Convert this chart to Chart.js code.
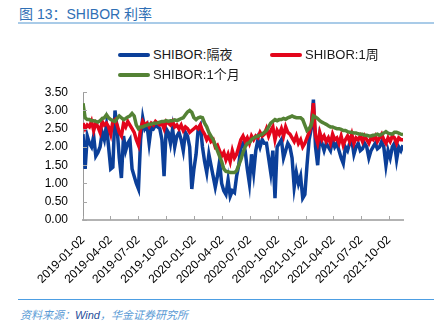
<!DOCTYPE html>
<html>
<head>
<meta charset="utf-8">
<script src="https://cdn.jsdelivr.net/npm/chart.js@4"></script>
<style>
  body { margin: 0; width: 448px; height: 332px; background: #fff; position: relative; overflow: hidden;
         font-family: "Liberation Sans", "Noto Sans CJK SC", sans-serif; }
  #title { position: absolute; left: 19px; top: 3px; font-size: 14px; color: #2f6fb5; }
  #rule1 { position: absolute; left: 18px; top: 22px; width: 416px; height: 2px; background: #a9cbe8; }
  #rule2 { position: absolute; left: 18px; top: 299px; width: 416px; height: 1px; background: #4d9ee3; }
  #source { position: absolute; left: 20px; top: 306px; font-size: 11px; font-style: italic; color: #5b9bd5; }
  #source b { font-weight: normal; color: #1f4e9a; }
  .lg { position: absolute; font-size: 13px; color: #1a1a1a; white-space: nowrap; }
  .lg i { display: inline-block; width: 32px; height: 4px; border-radius: 2px; vertical-align: middle; margin-right: 3px; position: relative; top: -1px; }
  #wrap { position: absolute; left: 0; top: 78px; width: 448px; height: 220px; }
</style>
</head>
<body>
<div id="title">图 13：SHIBOR 利率</div>
<div id="rule1"></div>
<div id="wrap"><canvas id="chart" width="448" height="220"></canvas></div>
<div id="legend"></div>
<div id="rule2"></div>
<div id="source">资料来源：<b>Wind</b>，华金证券研究所</div>
<script>
// weekly samples starting 2019-01-02
const startDate = "2019-01-02";
const stepDays = 7;
const endDay = 1050;

const tickDates = ["2019-01-02", "2019-04-02", "2019-07-02", "2019-10-02", "2020-01-02", "2020-04-02",
  "2020-07-02", "2020-10-02", "2021-01-02", "2021-04-02", "2021-07-02", "2021-10-02"];

const seriesNames = ["SHIBOR:隔夜", "SHIBOR:1周", "SHIBOR:1个月"];
const seriesColors = ["#0b3f99", "#e3051b", "#548235"];

const overnight = [2.35, 1.40, 2.30, 2.10, 2.00, 2.30, 1.75, 1.85, 2.00, 2.40,
  2.20, 2.60, 2.00, 1.40, 1.45, 3.00, 2.50, 1.70, 1.15, 2.30,
  1.90, 2.10, 2.20, 1.40, 1.20, 1.00, 0.85, 2.20, 2.80, 2.50,
  2.60, 2.10, 2.55, 2.50, 2.60, 2.55, 2.50, 2.20, 1.20, 2.50,
  2.40, 2.10, 2.50, 2.00, 2.30, 2.40, 2.20, 1.90, 2.40, 2.30,
  2.00, 0.85, 1.40, 1.80, 2.50, 2.60, 2.00, 1.60, 1.30, 1.80,
  1.50, 1.20, 0.90, 1.20, 1.60, 1.00, 0.80, 0.70, 1.10, 0.65,
  0.80, 0.75, 1.20, 1.50, 2.00, 2.10, 1.90, 1.40, 1.00, 1.80,
  1.30, 1.90, 2.20, 2.00, 2.20, 2.10, 2.10, 1.70, 1.30, 1.90,
  0.60, 2.00, 2.10, 2.20, 1.70, 1.90, 2.10, 2.00, 1.70, 0.90,
  1.30, 1.00, 1.20, 0.60, 0.70, 1.50, 2.20, 2.50, 3.30, 2.00,
  1.50, 2.30, 2.10, 1.90, 2.10, 2.00, 1.90, 2.20, 2.00, 2.10,
  1.90, 1.70, 1.55, 2.00, 1.90, 2.10, 2.20, 1.80, 2.00, 2.10,
  1.90, 1.95, 2.10, 2.00, 1.70, 1.90, 2.00, 2.10, 1.95, 2.00,
  2.15, 2.00, 1.50, 1.90, 1.70, 2.00, 2.10, 1.65, 2.00, 1.90, 2.05];

const oneWeek = [2.65, 2.50, 2.60, 2.55, 2.70, 2.45, 2.65, 2.55, 2.40, 2.70,
  2.60, 2.65, 2.55, 2.35, 2.70, 2.75, 2.60, 2.40, 2.30, 2.65,
  2.55, 2.70, 2.60, 2.50, 2.40, 2.20, 2.05, 2.50, 2.70, 2.60,
  2.65, 2.55, 2.65, 2.60, 2.70, 2.65, 2.60, 2.65, 2.50, 2.70,
  2.65, 2.60, 2.70, 2.55, 2.60, 2.50, 2.60, 2.45, 2.55, 2.50,
  2.40, 2.45, 2.50, 2.55, 2.50, 2.60, 2.45, 2.35, 2.20, 2.30,
  2.15, 2.20, 2.00, 2.05, 1.90, 1.75, 1.85, 1.65, 1.80, 1.60,
  1.90, 1.70, 1.80, 2.00, 2.20, 2.30, 2.15, 2.25, 2.10, 2.30,
  2.20, 2.30, 2.25, 2.40, 2.30, 2.35, 2.50, 2.30, 2.45, 2.55,
  2.20, 2.45, 2.35, 2.50, 2.30, 2.55, 2.40, 2.35, 2.25, 2.15,
  2.30, 2.10, 2.20, 2.00, 2.10, 2.25, 2.40, 2.60, 3.20, 2.30,
  2.10, 2.40, 2.20, 2.30, 2.15, 2.25, 2.10, 2.35, 2.20, 2.25,
  2.10, 2.30, 2.05, 2.20, 2.30, 2.15, 2.35, 2.10, 2.25, 2.20,
  2.30, 2.15, 2.30, 2.20, 2.10, 2.25, 2.20, 2.30, 2.15, 2.25,
  2.35, 2.20, 2.10, 2.25, 2.15, 2.30, 2.25, 2.10, 2.25, 2.20, 2.20];

const oneMonth = [3.20, 2.80, 2.75, 2.75, 2.72, 2.72, 2.70, 2.68, 2.72, 2.78,
  2.80, 2.88, 2.80, 2.75, 2.72, 2.70, 2.78, 2.85, 2.80, 2.75,
  2.78, 2.82, 2.85, 2.92, 2.85, 2.60, 2.50, 2.55, 2.55, 2.58,
  2.60, 2.62, 2.62, 2.65, 2.65, 2.66, 2.68, 2.70, 2.70, 2.72,
  2.70, 2.72, 2.72, 2.74, 2.72, 2.75, 2.78, 2.80, 2.88, 2.96,
  3.00, 2.95, 2.80, 2.75, 2.80, 2.82, 2.80, 2.65, 2.55, 2.40,
  2.30, 2.20, 2.05, 1.90, 1.75, 1.60, 1.40, 1.33, 1.32, 1.30,
  1.30, 1.30, 1.35, 1.50, 1.65, 1.85, 2.00, 2.10, 2.12, 2.20,
  2.25, 2.28, 2.30, 2.32, 2.35, 2.40, 2.45, 2.55, 2.65, 2.70,
  2.75, 2.72, 2.75, 2.75, 2.78, 2.76, 2.80, 2.82, 2.85, 2.82,
  2.80, 2.80, 2.80, 2.75, 2.60, 2.45, 2.50, 2.60, 2.85, 2.82,
  2.78, 2.72, 2.68, 2.65, 2.62, 2.58, 2.55, 2.55, 2.52, 2.50,
  2.50, 2.48, 2.45, 2.45, 2.42, 2.40, 2.40, 2.38, 2.38, 2.36,
  2.35, 2.35, 2.32, 2.32, 2.30, 2.30, 2.32, 2.33, 2.35, 2.32,
  2.35, 2.38, 2.42, 2.38, 2.36, 2.35, 2.40, 2.40, 2.38, 2.35, 2.34];

const dayOf = (s) => (Date.parse(s) - Date.parse(startDate)) / 86400000;
const toPoints = (arr) => arr.map((v, i) => ({ x: i * stepDays, y: v }));

// legend (two columns like the original)
const legendPos = [[118, 44], [270, 44], [118, 64]];
const legendBox = document.getElementById("legend");
seriesNames.forEach((name, i) => {
  const d = document.createElement("div");
  d.className = "lg";
  d.style.left = legendPos[i][0] + "px";
  d.style.top = legendPos[i][1] + "px";
  d.innerHTML = `<i style="background:${seriesColors[i]}"></i>${name}`;
  legendBox.appendChild(d);
});

// small tick marks pointing into the plot on both axes
const innerTicks = {
  id: "innerTicks",
  afterDraw(chart) {
    const { ctx, chartArea, scales } = chart;
    ctx.save();
    ctx.strokeStyle = "#a6a6a6";
    ctx.lineWidth = 1;
    scales.x.ticks.forEach((t) => {
      const px = Math.round(scales.x.getPixelForValue(t.value)) + 0.5;
      ctx.beginPath();
      ctx.moveTo(px, chartArea.bottom);
      ctx.lineTo(px, chartArea.bottom - 4);
      ctx.stroke();
    });
    scales.y.ticks.forEach((t) => {
      const py = Math.round(scales.y.getPixelForValue(t.value)) + 0.5;
      ctx.beginPath();
      ctx.moveTo(chartArea.left, py);
      ctx.lineTo(chartArea.left + 4, py);
      ctx.stroke();
    });
    ctx.restore();
  }
};

const seriesData = [overnight, oneWeek, oneMonth];
const datasets = seriesData.map((arr, i) => ({
  label: seriesNames[i],
  data: toPoints(arr),
  borderColor: seriesColors[i],
  backgroundColor: seriesColors[i],
  borderWidth: 3.5,
  pointRadius: 0,
  tension: 0,
  order: 3 - i
}));

const config = {
  type: "line",
  data: { datasets: datasets },
  options: {
    responsive: false,
    animation: false,
    layout: { padding: { top: 0, right: 45, left: 0, bottom: 0 } },
    plugins: { legend: { display: false }, tooltip: { enabled: false } },
    scales: {
      x: {
        type: "linear",
        min: 0,
        max: endDay,
        afterFit: (scale) => { scale.height = 78; },
        afterBuildTicks: (scale) => {
          scale.ticks = tickDates.map((d) => ({ value: dayOf(d) }));
        },
        ticks: {
          autoSkip: false,
          minRotation: 45,
          maxRotation: 45,
          padding: 5,
          color: "#000",
          font: { size: 12, family: "Liberation Sans" },
          callback: (v, i) => tickDates[i]
        },
        grid: { display: false },
        border: { color: "#b3b3b3", width: 2 }
      },
      y: {
        min: 0,
        max: 3.5,
        afterFit: (scale) => { scale.width = 83; },
        ticks: {
          autoSkip: false,
          stepSize: 0.5,
          padding: 7,
          color: "#000",
          font: { size: 12, family: "Liberation Sans" },
          callback: (v) => v.toFixed(2)
        },
        grid: { display: false },
        border: { color: "#9a9a9a", width: 1 }
      }
    }
  },
  plugins: [innerTicks]
};

const Charts = new Chart("chart", config);
</script>
</body>
</html>
